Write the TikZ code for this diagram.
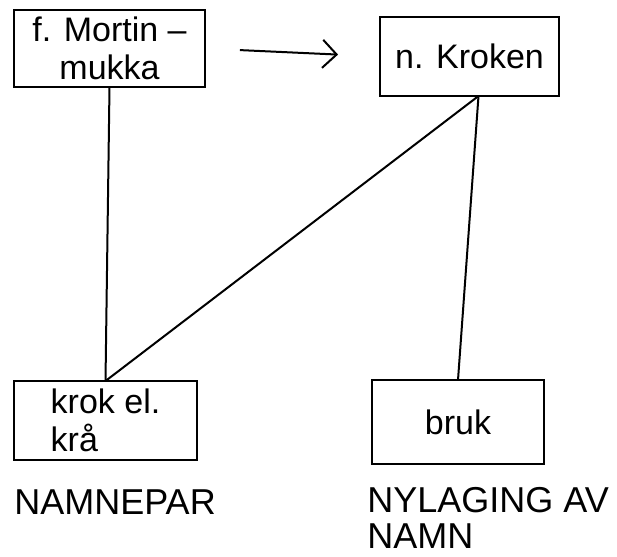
\documentclass[tikz,border=0pt]{standalone}
\usepackage{fontspec}
\setmainfont{Liberation Sans}
\usetikzlibrary{arrows.meta}

\begin{document}
\begin{tikzpicture}[x = 0.5pt, y = -0.5pt, font = \fontsize{17}{19}\selectfont,
  namebox/.style = {draw, line width = 1.3pt, inner sep = 0pt, outer sep = 0pt, align = center},
  link/.style = {line width = 1pt},
  tag/.style = {inner sep = 0pt, font = \fontsize{18}{18}\selectfont}]
% frame
\useasboundingbox (0,0) rectangle (617,557);
% name boxes
\node[namebox, minimum width = 95.5pt, minimum height = 38.5pt] (mortin) at (109.5,48.5) {f. Mortin –\\mukka};
\node[namebox, minimum width = 89.5pt, minimum height = 39.5pt] (kroken) at (469.5,56.5) {n. Kroken};
\node[namebox, minimum width = 91.5pt, minimum height = 39.5pt, align = left] (krok) at (105.5,420.5) {krok el.\\krå};
\node[namebox, minimum width = 86pt, minimum height = 42pt] (bruk) at (458,422) {bruk};
% foot of the kroken box
\coordinate (krokenfoot) at ([xshift = 4.5pt]kroken.south);
% arrow
\draw[link, -{Straight Barb[length = 7pt, width = 14pt]}, shorten <= 17.5pt, shorten >= 21pt] (mortin.east) -- (kroken.west);
% lines
\draw[link] (mortin.south) -- (krok.north);
\draw[link] (krokenfoot) -- (krok.north);
\draw[link] (krokenfoot) -- (bruk.north);
% captions
\node[tag, anchor = west] (namnepar) at (14,502) {NAMNEPAR};
\node[tag, anchor = north west, align = left] (nylaging) at (367,487) {NYLAGING AV\\NAMN};
\end{tikzpicture}
\end{document}
